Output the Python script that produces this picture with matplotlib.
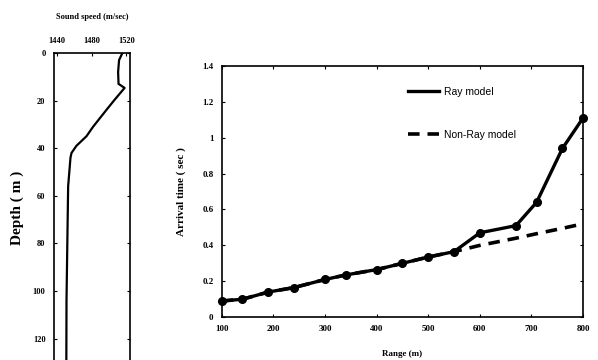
import numpy as np
import matplotlib
matplotlib.use("Agg")
from matplotlib import pyplot as plt

# sound speed profile (left panel)
depth = [0, 3, 8, 13, 14.7, 19.6, 23.9, 31, 35, 39, 42, 44, 56, 76, 104, 130]
speed = [1515.5, 1511.6, 1510.5, 1511, 1518, 1506.6, 1497, 1481.5, 1473.8, 1462.2, 1456.5, 1455.3, 1452.6, 1451.8, 1450.7, 1450.5]
speed_ticks = [1440, 1480, 1520]
depth_ticks = [0, 20, 40, 60, 80, 100, 120]

# arrival time (right panel)
rng = [100, 140, 190, 240, 300, 340, 400, 450, 500, 550, 600, 670, 710, 760, 800]
ray = [0.09, 0.10, 0.14, 0.165, 0.21, 0.235, 0.265, 0.30, 0.335, 0.365, 0.47, 0.51, 0.64, 0.94, 1.11]
rng_nr = [100, 140, 190, 240, 300, 340, 400, 450, 500, 550, 600, 670, 710, 760, 800]
nonray = [0.09, 0.10, 0.14, 0.165, 0.21, 0.235, 0.265, 0.30, 0.335, 0.365, 0.40, 0.44, 0.465, 0.495, 0.52]
range_ticks = [100, 200, 300, 400, 500, 600, 700, 800]
time_ticks = [0, 0.2, 0.4, 0.6, 0.8, 1.0, 1.2, 1.4]
time_labels = ['0', '0.2', '0.4', '0.6', '0.8', '1', '1.2', '1.4']

serif = ['Liberation Serif', 'DejaVu Serif']
sans = ['Liberation Sans', 'DejaVu Sans']

fig = plt.figure(figsize=(5.98, 3.6), dpi=100)

# left panel
ax1 = fig.add_axes([0.090, -0.007, 0.127, 0.860])
ax1.plot(speed, depth, color='black', lw=1.6)
ax1.set_xlim(1436, 1524)
ax1.set_ylim(130, 0)
ax1.xaxis.tick_top()
ax1.xaxis.set_label_position('top')
ax1.set_xticks(speed_ticks)
ax1.set_xticklabels([str(s) for s in speed_ticks], fontfamily=serif, fontweight='bold', fontsize=6)
ax1.set_yticks(depth_ticks)
ax1.set_yticklabels([str(d) for d in depth_ticks], fontfamily=serif, fontweight='bold', fontsize=6)
ax1.tick_params(direction='in', length=2.5, width=0.8, pad=6, right=True)
ax1.set_xlabel('Sound speed (m/sec)', fontfamily=serif, fontweight='bold', fontsize=6, labelpad=13)
ax1.set_ylabel('Depth ( m )', fontfamily=serif, fontweight='bold', fontsize=11, labelpad=6)
for s in ax1.spines.values():
    s.set_linewidth(1.2)

# right panel
ax2 = fig.add_axes([0.371, 0.119, 0.604, 0.698])
ax2.plot(rng_nr, nonray, color='black', lw=2.6, ls=(0, (3.2, 2.2)), label='Non-Ray model')
ax2.plot(rng, ray, color='black', lw=2.4, marker='o', ms=5.5, label='Ray model', clip_on=False, zorder=5)
ax2.set_xlim(100, 800)
ax2.set_ylim(0, 1.4)
ax2.set_xticks(range_ticks)
ax2.set_xticklabels([str(r) for r in range_ticks], fontfamily=serif, fontweight='bold', fontsize=6.5)
ax2.set_yticks(time_ticks)
ax2.set_yticklabels(time_labels, fontfamily=serif, fontweight='bold', fontsize=6.5)
ax2.tick_params(direction='in', length=2.5, width=0.8, pad=6, right=True, top=True)
ax2.set_xlabel('Range (m)', fontfamily=serif, fontweight='bold', fontsize=6.5, labelpad=12)
ax2.set_ylabel('Arrival time ( sec )', fontfamily=serif, fontweight='bold', fontsize=8, labelpad=12)
for s in ax2.spines.values():
    s.set_linewidth(1.2)

h, l = ax2.get_legend_handles_labels()
leg = ax2.legend([h[1], h[0]], [l[1], l[0]], loc='upper left', bbox_to_anchor=(0.49, 0.955),
                 frameon=False, prop={'family': sans, 'size': 7.5}, handlelength=3.0,
                 labelspacing=3.2, handletextpad=0.4)
leg.legend_handles[0].set_marker('')

fig.savefig('out.png', dpi=100)
